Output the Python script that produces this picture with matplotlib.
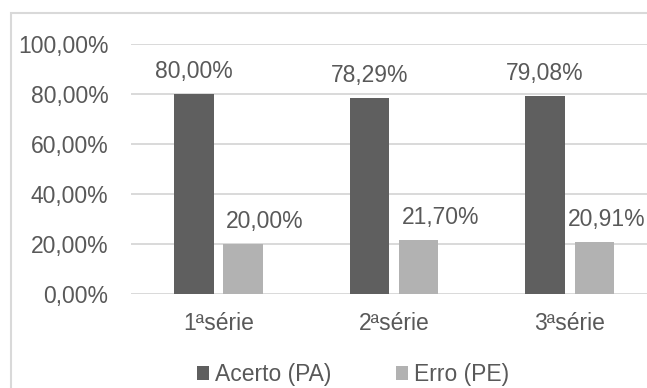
import numpy as np
import matplotlib
matplotlib.use("Agg")
from matplotlib import pyplot as plt
from matplotlib.patches import Rectangle

series = ["1ªsérie", "2ªsérie", "3ªsérie"]
acerto = [80.00, 78.29, 79.08]
erro = [20.00, 21.70, 20.91]
yticks = [0, 20, 40, 60, 80, 100]

DARK = "#5f5f5f"
LIGHT = "#b2b2b2"
TEXT = "#595959"
GRID = "#d9d9d9"

plt.rcParams["font.family"] = ["Liberation Sans", "DejaVu Sans"]
FS = 16.5


def pct(v):
    return ("%.2f%%" % v).replace(".", ",")


fig = plt.figure(figsize=(6.47, 3.88), dpi=100)
W, H = 647.0, 388.0
ax = fig.add_axes([130.5 / W, 1 - 294 / H, 1 - 130.5 / W, (294 - 44) / H])

x = np.arange(len(series))
off, bw = 0.14, 0.225
b1 = ax.bar(x - off, acerto, bw, color=DARK, label="Acerto (PA)", zorder=3)
b2 = ax.bar(x + off, erro, bw, color=LIGHT, label="Erro (PE)", zorder=3)

ax.set_xlim(-0.5, 2.44)
ax.set_ylim(0, 100)
ax.set_yticks(yticks)
ax.set_yticklabels([pct(v) for v in yticks])
ax.set_xticks(x)
ax.set_xticklabels(series)
ax.tick_params(axis="both", length=0, labelsize=FS, labelcolor=TEXT)
ax.tick_params(axis="y", pad=16)
ax.tick_params(axis="x", pad=13)
for s in ax.spines.values():
    s.set_visible(False)
ax.yaxis.grid(True, color=GRID, linewidth=1.4, zorder=0)
ax.set_axisbelow(True)

# value labels; the light ones sit a little to the right of their bars
light_dx = [22, 22, 12]
for rect, v in zip(b1, acerto):
    ax.annotate(pct(v), (rect.get_x() + rect.get_width() / 2, v),
                xytext=(0, 16), textcoords="offset pixels",
                ha="center", va="baseline", fontsize=FS, color=TEXT)
for rect, v, dx in zip(b2, erro, light_dx):
    ax.annotate(pct(v), (rect.get_x() + rect.get_width() / 2, v),
                xytext=(dx, 16), textcoords="offset pixels",
                ha="center", va="baseline", fontsize=FS, color=TEXT)

fig.legend(handles=[b1, b2], loc="center", bbox_to_anchor=(353 / W, 1 - 375 / H),
           ncol=2, frameon=False, fontsize=FS, labelcolor=TEXT,
           handlelength=0.55, handleheight=0.55, handletextpad=0.25,
           columnspacing=2.8, borderaxespad=0)

fig.add_artist(Rectangle((11 / W, -0.1), 2, (H - 13) / H + 0.1,
                         transform=fig.transFigure, fill=False,
                         edgecolor=GRID, linewidth=1.5))

fig.savefig("out.png", dpi=100)
